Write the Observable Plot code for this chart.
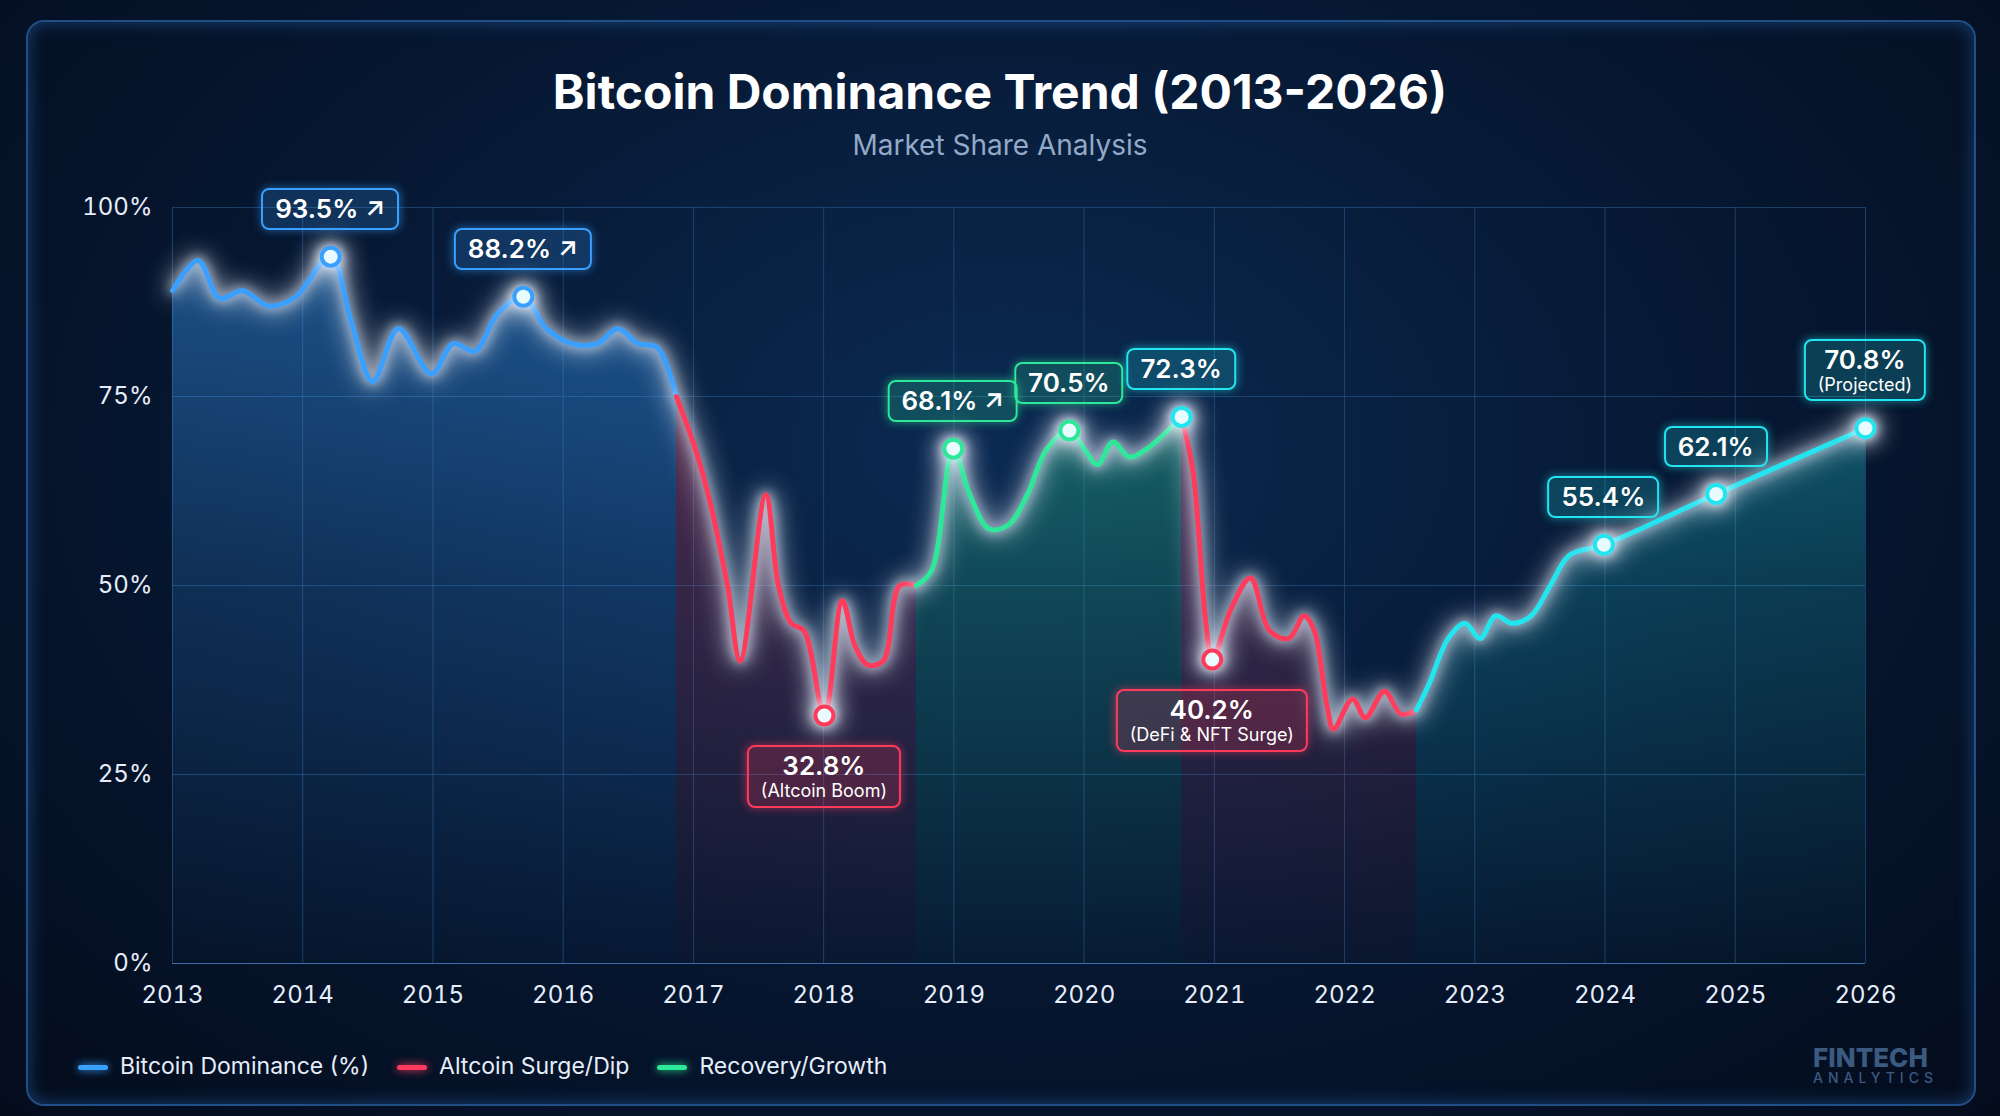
<!DOCTYPE html>
<html><head><meta charset="utf-8">
<script src="https://cdn.jsdelivr.net/npm/d3@7"></script>
<script src="https://cdn.jsdelivr.net/npm/@observablehq/plot@0.6"></script>
<style>
html,body{margin:0;padding:0;width:2000px;height:1116px;overflow:hidden;background:#050f22;font-family:Inter,"Noto Sans",sans-serif;}
#wrap{position:relative;width:2000px;height:1116px;background:radial-gradient(ellipse at 50% 40%,#0b2a52 0%,#061731 55%,#040c1c 100%);}
#frame{position:absolute;left:26px;top:20px;width:1946px;height:1082px;border:2px solid #1f4f86;border-radius:18px;box-shadow:0 0 18px rgba(60,150,255,0.35) inset;}
#title{position:absolute;top:62px;width:100%;text-align:center;color:#fff;font-size:48px;font-weight:700;}
#sub{position:absolute;top:128px;width:100%;text-align:center;color:#93a9c7;font-size:28px;}
#chart{position:absolute;left:0;top:0;}
.glow{filter:drop-shadow(0 0 6px currentColor) drop-shadow(0 0 12px currentColor);}
.box{position:absolute;transform:translate(-50%,0);border:2px solid;border-radius:8px;color:#fff;text-align:center;padding:4px 12px;font-size:26px;font-weight:600;white-space:nowrap;line-height:1.15;}
.box small{display:block;font-size:18px;font-weight:400;}
#legend{position:absolute;left:78px;top:1052px;color:#e6eefb;font-size:23px;display:flex;gap:28px;align-items:center;}
#legend span.sw{display:inline-block;width:30px;height:5px;border-radius:3px;margin-right:12px;vertical-align:middle;}
#brand{position:absolute;right:62px;top:1045px;color:#3a5a80;font-weight:800;font-size:26px;line-height:1;}
#brand small{display:block;font-size:14px;letter-spacing:5px;font-weight:500;}
</style></head>
<body><div id="wrap"><div id="frame"></div>
<div id="title">Bitcoin Dominance Trend (2013-2026)</div>
<div id="sub">Market Share Analysis</div>
<div id="legend">
<div><span class="sw" style="background:#3aa0ff;box-shadow:0 0 8px #3aa0ff"></span>Bitcoin Dominance (%)</div>
<div><span class="sw" style="background:#ff3b5c;box-shadow:0 0 8px #ff3b5c"></span>Altcoin Surge/Dip</div>
<div><span class="sw" style="background:#2ee89a;box-shadow:0 0 8px #2ee89a"></span>Recovery/Growth</div>
</div>
<div id="brand">FINTECH<small>ANALYTICS</small></div>
</div>
<script>
const px = [135,155,172,190,210,230,259,275,292,312,338,355,372,390,410,428,448,468,484,500,515,530,
 545,555,570,580,600,610,620,630,646,660,670,680,692,705,718,
 730,747,760,775,790,805,820,838,850,860,872,885,898,926,
 935,945,950,965,980,995,1010,1022,1030,1040,1045,1060,1070,1085,1098,1110,
 1120,1135,1148,1160,1172,1185,1200,1215,1230,1257,1345,1462];
const years = px.map(x => 2013 + (x-135)/102.08);
const values = [89,93,88,89,87,88,93.5,85,77,84,78,82,81,86,88.2,84,82,82,84,82,81.5,75,
 68,62,50,40,62,50,45,44,32.8,48,42,39.5,40,50,50,
 52,68.1,62,57.5,58,62,68,70.5,68,66,69,67,68,72.3,
 65,45,40.2,47,51,44,43,46,44,34,31,35,32.5,36,33,33.5,
 37,43,45,43,46,45,46,50,54,55.4,62.1,70.8];
const segBreaks = [[0,22,"blue"],[21,37,"red"],[36,51,"green"],[50,67,"red"],[66,values.length,"cyan"]];
const segColors = {blue:"#3aa0ff",red:"#ff3b5c",green:"#2ee89a",cyan:"#22e5f0"};
const callouts = [
 {i:6,label:"93.5% ↗",sub:"",pos:"above",c:"#3aa0ff"},
 {i:14,label:"88.2% ↗",sub:"",pos:"above",c:"#3aa0ff"},
 {i:30,label:"32.8%",sub:"(Altcoin Boom)",pos:"below",c:"#ff3b5c"},
 {i:38,label:"68.1% ↗",sub:"",pos:"above",c:"#2ee89a"},
 {i:44,label:"70.5%",sub:"",pos:"above",c:"#2ee89a"},
 {i:50,label:"72.3%",sub:"",pos:"above",c:"#22e5f0"},
 {i:53,label:"40.2%",sub:"(DeFi & NFT Surge)",pos:"below",c:"#ff3b5c"},
 {i:values.length-3,label:"55.4%",sub:"",pos:"above",c:"#22e5f0"},
 {i:values.length-2,label:"62.1%",sub:"",pos:"above",c:"#22e5f0"},
 {i:values.length-1,label:"70.8%",sub:"(Projected)",pos:"above",c:"#22e5f0"}
];
const tickYears = d3.range(2013,2027);
const yTicks = [0,25,50,75,100];

const data = years.map((y,k)=>({year:y,v:values[k]}));
const marks = [
 Plot.gridX(tickYears,{stroke:"#2a5a90",strokeOpacity:0.6}),
 Plot.gridY(yTicks,{stroke:"#2a5a90",strokeOpacity:0.6}),
];
segBreaks.forEach(([a,b,k])=>{
  marks.push(Plot.areaY(data.slice(a,b),{x:"year",y:"v",fill:`url(#g_${k})`,curve:"catmull-rom"}));
});
segBreaks.forEach(([a,b,k])=>{
  marks.push(Plot.lineY(data.slice(a,b),{x:"year",y:"v",stroke:segColors[k],strokeWidth:5,curve:"catmull-rom",className:"glow"}));
});
const cd = callouts.map(c=>({year:years[c.i],v:values[c.i],c:c.c}));
marks.push(Plot.dot(cd,{x:"year",y:"v",r:9,fill:"#e8fbff",stroke:d=>d.c,strokeWidth:4,className:"glow"}));
marks.push(Plot.axisX(tickYears,{tickFormat:"d",tickSize:0,tickPadding:22,fontSize:24,fill:"#e6eefb",label:null}));
marks.push(Plot.axisY(yTicks,{tickFormat:d=>d+"%",tickSize:0,tickPadding:20,fontSize:24,fill:"#e6eefb",label:null}));
marks.push(Plot.ruleY([0],{stroke:"#3b6ea8"}));

const chart = Plot.plot({
  width:2000,height:1116,marginLeft:172,marginRight:135,marginTop:207,marginBottom:153,
  x:{domain:[2013,2026],axis:null,label:null},y:{domain:[0,100],axis:null,label:null},
  style:{background:"transparent",color:"#e6eefb",fontFamily:"Inter, sans-serif",overflow:"visible"},
  marks
});
chart.id="chart";
const ns="http://www.w3.org/2000/svg";
const defs=document.createElementNS(ns,"defs");
Object.entries(segColors).forEach(([k,c])=>{
  const g=document.createElementNS(ns,"linearGradient");
  g.setAttribute("id","g_"+k);g.setAttribute("x1","0");g.setAttribute("x2","0");
  g.setAttribute("gradientUnits","userSpaceOnUse");g.setAttribute("y1","207");g.setAttribute("y2","963");
  [[0,0.45],[0.5,0.18],[1,0.02]].forEach(([o,a])=>{const s=document.createElementNS(ns,"stop");s.setAttribute("offset",o);s.setAttribute("stop-color",c);s.setAttribute("stop-opacity",a);g.appendChild(s);});
  defs.appendChild(g);
});
chart.prepend(defs);
const wrap=document.getElementById("wrap");
wrap.insertBefore(chart,document.getElementById("legend"));
const sx=chart.scale("x"),sy=chart.scale("y");
callouts.forEach(c=>{
  const x=sx.apply(years[c.i]),y=sy.apply(values[c.i]);
  const b=document.createElement("div");b.className="box";
  b.style.borderColor=c.c;b.style.background=c.c+"33";b.style.boxShadow=`0 0 10px ${c.c}88`;
  b.innerHTML=c.label+(c.sub?`<small>${c.sub}</small>`:"");
  b.style.left=x+"px";
  wrap.appendChild(b);
  if(c.pos==="above"){b.style.top=(y-26-b.offsetHeight)+"px";}
  else{b.style.top=(y+30)+"px";}
});
</script></body></html>
